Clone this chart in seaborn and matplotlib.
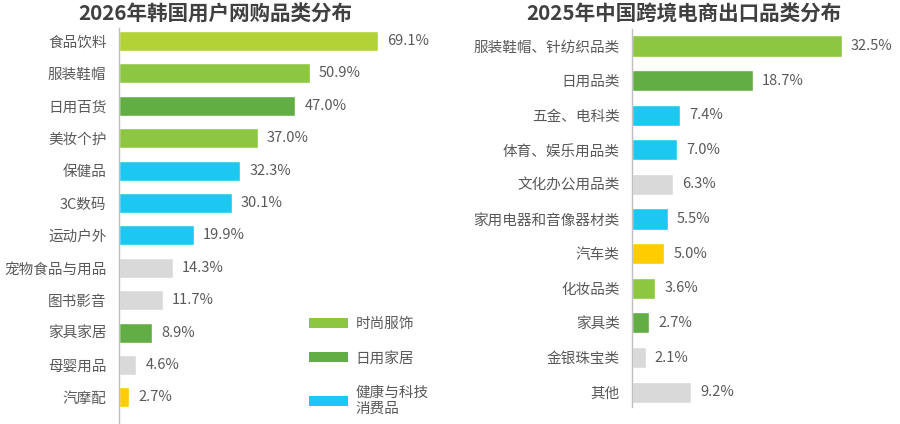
import matplotlib
matplotlib.use("Agg")
import matplotlib.pyplot as plt
from matplotlib.patches import Patch
import seaborn as sns
import pandas as pd

# left panel: 2026 Korea online shopping categories
kr_cats = ["食品饮料", "服装鞋帽", "日用百货", "美妆个护", "保健品", "3C数码", "运动户外",
           "宠物食品与用品", "图书影音", "家具家居", "母婴用品", "汽摩配"]
kr_vals = [69.1, 50.9, 47.0, 37.0, 32.3, 30.1, 19.9, 14.3, 11.7, 8.9, 4.6, 2.7]
kr_groups = ["food", "fashion", "home", "fashion", "tech", "tech", "tech",
             "other", "other", "home", "other", "auto"]

# right panel: 2025 China cross-border export categories
cn_cats = ["服装鞋帽、针纺织品类", "日用品类", "五金、电科类", "体育、娱乐用品类", "文化办公用品类",
           "家用电器和音像器材类", "汽车类", "化妆品类", "家具类", "金银珠宝类", "其他"]
cn_vals = [32.5, 18.7, 7.4, 7.0, 6.3, 5.5, 5.0, 3.6, 2.7, 2.1, 9.2]
cn_groups = ["fashion", "home", "tech", "tech", "other", "tech", "auto",
             "fashion", "home", "other", "other"]

group_colors = {"food": "#B3D235", "fashion": "#8DC641", "home": "#62AE45",
                "tech": "#1CC8F0", "other": "#D9D9D9", "auto": "#FFCC00"}
legend_groups = ["fashion", "home", "tech"]
legend_labels = ["时尚服饰", "日用家居", "健康与科技\n消费品"]

sns.set_style("white")
plt.rcParams["font.family"] = ["Noto Sans CJK SC", "DejaVu Sans"]

TXT = "#595959"


def draw_panel(ax, cats, vals, groups, bar_w):
    df = pd.DataFrame({"cat": cats, "val": vals, "grp": groups})
    sns.barplot(data=df, x="val", y="cat", hue="grp", palette=group_colors,
                dodge=False, width=bar_w, legend=False, ax=ax, saturation=1)
    for cont in ax.containers:
        ax.bar_label(cont, fmt="%.1f%%", padding=6.5, fontsize=10.5, color=TXT)
    ax.set_xlabel("")
    ax.set_ylabel("")
    ax.set_xticks([])
    ax.tick_params(axis="y", length=0, pad=9, labelsize=10.5, labelcolor=TXT)
    for s in ["top", "right", "bottom"]:
        ax.spines[s].set_visible(False)
    ax.spines["left"].set_color("#BFBFBF")
    ax.spines["left"].set_linewidth(1)


fig = plt.figure(figsize=(9, 4.24), dpi=100)

ax1 = fig.add_axes([119 / 900, 0.0, 321 / 900, 396 / 424])
draw_panel(ax1, kr_cats, kr_vals, kr_groups, 0.62)
ax1.set_xlim(0, 321 / 3.75)
ax1.set_ylim(11.82, -0.40)

ax2 = fig.add_axes([632 / 900, 17 / 424, 263 / 900, 378 / 424])
draw_panel(ax2, cn_cats, cn_vals, cn_groups, 0.61)
ax2.set_xlim(0, 263 / 6.46)
ax2.set_ylim(10.43, -0.49)

fig.text(215 / 900, 1 - 14 / 424, "2026年韩国用户网购品类分布", ha="center", va="center",
         fontsize=14.8, fontweight="bold", color="#404040")
fig.text(684 / 900, 1 - 14 / 424, "2025年中国跨境电商出口品类分布", ha="center", va="center",
         fontsize=14.8, fontweight="bold", color="#404040")

handles = [Patch(facecolor=group_colors[g], edgecolor="none") for g in legend_groups]
fig.legend(handles, legend_labels, loc="upper left", bbox_to_anchor=(309 / 900, 1 - 317 / 424),
           frameon=False, fontsize=10.5, labelcolor=TXT, handlelength=2.7, handleheight=0.7,
           handletextpad=0.5, labelspacing=1.4, borderpad=0, borderaxespad=0)

fig.savefig("out.png", dpi=100)
